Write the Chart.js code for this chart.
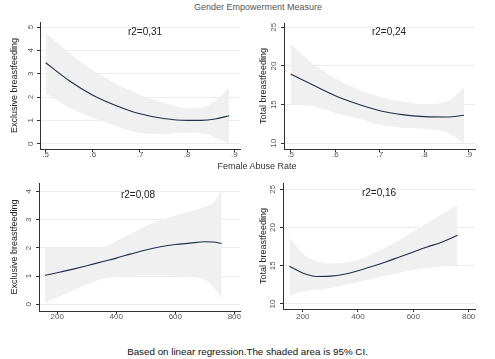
<!DOCTYPE html>
<html><head><meta charset="utf-8">
<script src="https://cdn.jsdelivr.net/npm/chart.js@4"></script>
<style>
body{margin:0;background:#fff;width:495px;height:359px;position:relative;overflow:hidden;font-family:"Liberation Sans",Arial,sans-serif}
canvas{position:absolute}
.t{position:absolute;white-space:nowrap;transform:translate(-50%,-50%);line-height:1}
</style></head><body>
<canvas id="c1" width="245" height="150" style="left:0;top:12px"></canvas>
<canvas id="c2" width="250" height="150" style="left:245px;top:12px"></canvas>
<canvas id="c3" width="245" height="160" style="left:0;top:172px"></canvas>
<canvas id="c4" width="250" height="160" style="left:245px;top:172px"></canvas>
<div class="t" style="left:258px;top:7px;font-size:9px;color:#555">Gender Empowerment Measure</div>
<div class="t" style="left:257px;top:166px;font-size:9px;color:#333">Female Abuse Rate</div>
<div class="t" style="left:247.5px;top:352px;font-size:9.8px;color:#111">Based on linear regression.The shaded area is 95% CI.</div>
<div class="t" style="left:145px;top:32px;font-size:10px;color:#222">r2=0,31</div>
<div class="t" style="left:389px;top:32px;font-size:10px;color:#222">r2=0,24</div>
<div class="t" style="left:138px;top:195px;font-size:10px;color:#222">r2=0,08</div>
<div class="t" style="left:379px;top:193px;font-size:10px;color:#222">r2=0,16</div>
<script>
// Top-left: Exclusive breastfeeding vs GEM
const xs1 = [0.5, 0.55, 0.6, 0.65, 0.7, 0.75, 0.8, 0.83, 0.86, 0.889];
const fit1 = [3.47, 2.70, 2.08, 1.63, 1.28, 1.08, 1.00, 1.00, 1.06, 1.20];
const upper1 = [4.76, 3.90, 3.15, 2.55, 2.10, 1.75, 1.52, 1.55, 1.85, 2.41];
const lower1 = [2.15, 1.55, 1.10, 0.75, 0.46, 0.42, 0.47, 0.45, 0.27, 0.00];
// Top-right: Total breastfeeding vs GEM
const xs2 = [0.5, 0.55, 0.6, 0.65, 0.7, 0.75, 0.8, 0.85, 0.889];
const fit2 = [18.97, 17.54, 16.16, 15.09, 14.22, 13.71, 13.45, 13.40, 13.62];
const upper2 = [22.8, 20.3, 18.4, 16.98, 16.03, 15.4, 15.04, 15.4, 17.2];
const lower2 = [15.14, 14.78, 13.92, 13.2, 12.41, 12.02, 11.86, 11.4, 10.04];
// Bottom-left: Exclusive breastfeeding vs Female Abuse Rate
const xs3 = [158, 200, 250, 300, 355, 400, 450, 500, 550, 600, 650, 700, 730, 757];
const fit3 = [1.03, 1.12, 1.24, 1.37, 1.52, 1.64, 1.79, 1.93, 2.04, 2.12, 2.17, 2.22, 2.21, 2.16];
const upper3 = [2.0, 2.0, 2.0, 2.0, 2.02, 2.25, 2.5, 2.78, 2.98, 3.15, 3.3, 3.45, 3.62, 4.05];
const lower3 = [0.05, 0.25, 0.48, 0.7, 0.92, 0.98, 1.0, 1.03, 1.03, 1.0, 0.97, 0.87, 0.6, 0.2];
// Bottom-right: Total breastfeeding vs Female Abuse Rate
const xs4 = [152, 200, 250, 300, 350, 400, 450, 500, 550, 600, 650, 700, 730, 760];
const fit4 = [14.95, 14.05, 13.6, 13.65, 13.9, 14.35, 14.9, 15.5, 16.15, 16.8, 17.45, 18.05, 18.5, 19.0];
const upper4 = [18.7, 16.6, 15.6, 15.3, 15.4, 15.8, 16.5, 17.4, 18.4, 19.5, 20.6, 21.7, 22.3, 22.9];
const lower4 = [11.15, 11.6, 11.85, 12.1, 12.45, 12.85, 13.3, 13.7, 14.1, 14.45, 14.7, 14.9, 15.0, 15.05];
// Tick values / labels
const gemTicks = [0.5, 0.6, 0.7, 0.8, 0.9];
const gemTickLabels = ['.5', '.6', '.7', '.8', '.9'];
const farTicks = [200, 400, 600, 800];
const farTickLabels = ['200', '400', '600', '800'];
const yTicks1 = [0, 1, 2, 3, 4, 5];
const yTicks2 = [10, 15, 20, 25];
const yTicks3 = [0, 1, 2, 3, 4];
const yTicks4 = [10, 15, 20, 25];

const BAND = '#f0f0f0', LINE = '#1e2f4d', AX = '#333', GRID = '#ececec', TK = '#555', NONE = 'rgba(0,0,0,0)';

function panel(id, o) {
  const pts = arr => o.xs.map((x, i) => ({x: x, y: arr[i]}));
  new Chart(document.getElementById(id), {
    type: 'line',
    data: { datasets: [
      {data: pts(o.fit), fill: false, borderColor: LINE, borderWidth: 1.1, pointRadius: 0, cubicInterpolationMode: 'monotone', order: 0},
      {data: pts(o.upper), fill: '+1', backgroundColor: BAND, borderColor: NONE, borderWidth: 0, pointRadius: 0, cubicInterpolationMode: 'monotone', order: 1},
      {data: pts(o.lower), fill: false, borderColor: NONE, borderWidth: 0, pointRadius: 0, cubicInterpolationMode: 'monotone', order: 2}
    ]},
    options: {
      responsive: false, animation: false, events: [],
      layout: {padding: {top: o.pt, right: o.pr, left: 0, bottom: 0}},
      plugins: {legend: {display: false}, tooltip: {enabled: false}},
      scales: {
        x: {type: 'linear', min: o.xmin, max: o.xmax,
          afterFit: s => { s.height = o.xh; },
          afterBuildTicks: s => { s.ticks = o.xt.map(v => ({value: v})); },
          grid: {drawOnChartArea: false, drawTicks: true, tickLength: 3, tickColor: AX, tickWidth: 1},
          border: {display: true, color: AX, width: 1},
          ticks: {autoSkip: false, maxRotation: 0, minRotation: 0, padding: o.xpad, color: TK,
            font: {size: 8, lineHeight: 1}, callback: (v, i) => o.xl[i]}},
        y: {type: 'linear', min: o.ymin, max: o.ymax,
          afterFit: s => { s.width = o.yw; },
          afterBuildTicks: s => { s.ticks = o.yt.map(v => ({value: v})); },
          grid: {drawOnChartArea: true, color: GRID, lineWidth: 1, drawTicks: true, tickLength: 3, tickColor: AX},
          border: {display: true, color: AX, width: 1},
          ticks: {minRotation: 90, maxRotation: 90, crossAlign: 'center', padding: o.ypad, color: TK,
            font: {size: 8}, callback: v => String(v)},
          title: {display: true, text: o.ytitle, color: '#222', font: {size: 9}, padding: {top: o.ytp, bottom: 0}}}
      }
    }
  });
}

panel('c1', {xs: xs1, fit: fit1, upper: upper1, lower: lower1, xt: gemTicks, xl: gemTickLabels, yt: yTicks1,
  xmin: 0.4879, xmax: 0.9121, ymin: -0.227, ymax: 5.216, pt: 10, pr: 5, xh: 13, yw: 40, xpad: -1, ypad: 4.3, ytp: 9.6,
  ytitle: 'Exclusive breastfeeding'});
panel('c2', {xs: xs2, fit: fit2, upper: upper2, lower: lower2, xt: gemTicks, xl: gemTickLabels, yt: yTicks2,
  xmin: 0.485, xmax: 0.9135, ymin: 9.263, ymax: 25.56, pt: 11, pr: 20, xh: 13, yw: 39, xpad: -1, ypad: 2.3, ytp: 13.6,
  ytitle: 'Total breastfeeding'});
panel('c3', {xs: xs3, fit: fit3, upper: upper3, lower: lower3, xt: farTicks, xl: farTickLabels, yt: yTicks3,
  xmin: 138, xmax: 819.3, ymin: -0.238, ymax: 4.306, pt: 11, pr: 5, xh: 21, yw: 39, xpad: -1, ypad: 5.1, ytp: 9.6,
  ytitle: 'Exclusive breastfeeding'});
panel('c4', {xs: xs4, fit: fit4, upper: upper4, lower: lower4, xt: farTicks, xl: farTickLabels, yt: yTicks4,
  xmin: 128.8, xmax: 823.1, ymin: 9.346, ymax: 25.82, pt: 11, pr: 20, xh: 23, yw: 38, xpad: 0.5, ypad: 3, ytp: 12.9,
  ytitle: 'Total breastfeeding'});
</script>
</body></html>
